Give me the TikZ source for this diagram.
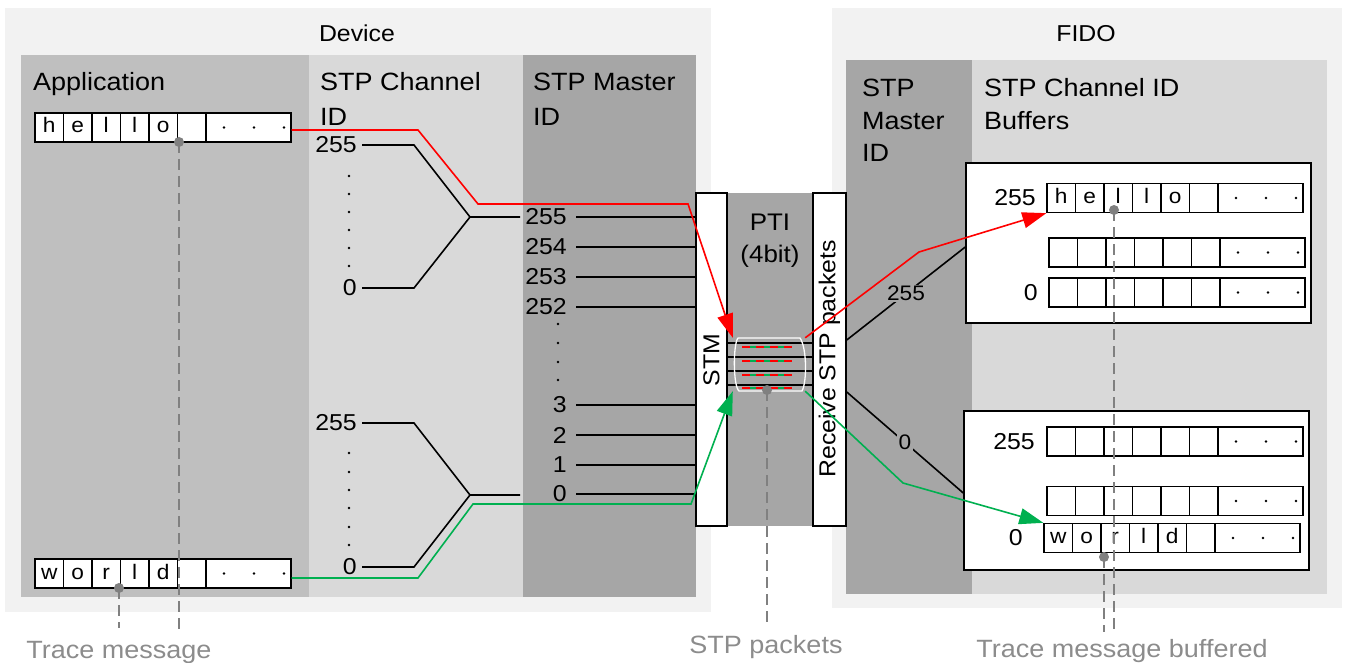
\documentclass[tikz,border=0pt]{standalone}
\usepackage{fontspec}
\setmainfont{Liberation Sans}[FakeStretch=1.08]
\usetikzlibrary{arrows.meta}

\definecolor{outerbg}{HTML}{F2F2F2}
\definecolor{appbg}{HTML}{BFBFBF}
\definecolor{chanbg}{HTML}{D9D9D9}
\definecolor{mastbg}{HTML}{A6A6A6}
\definecolor{tracegray}{HTML}{808080}
\definecolor{notegray}{HTML}{8C8C8C}
\definecolor{msgred}{HTML}{FF0000}
\definecolor{msggreen}{HTML}{00B050}

% one message buffer: six character cells and a wide "..." cell
% #1 name, #2 left x, #3 centre y, #4 the six characters
\newcommand\msgbuf[4]{%
  \foreach \bufch [count=\bufk from 0] in {#4}{%
    \node[cell] (#1-\bufk) at ({#2+14.25+28.5*\bufk},#3) {\bufch};}%
  \node[dotcell] (#1-dots) at ({#2+213.5},#3) {};%
  \foreach \bufdx in {18,48,78}{\fill ({#2+171+\bufdx},#3) circle (1.4);}%
}

\begin{document}
\begin{tikzpicture}[x=1pt,y=-1pt,
  wire/.style={line width=1.6pt},
  redwire/.style={line width=1.6pt, msgred, -{Triangle[length=24pt,width=16pt]}},
  greenwire/.style={line width=1.6pt, msggreen, -{Triangle[length=24pt,width=16pt]}},
  trace/.style={tracegray, line width=1.5pt, dash pattern=on 11pt off 6pt},
  tdot/.style={circle, fill=tracegray, inner sep=0pt, minimum size=10pt},
  cell/.style={draw, fill=white, line width=1.3pt, minimum width=28.5pt,
    minimum height=29pt, inner sep=0pt, text height=15pt, text depth=4pt,
    font=\fontsize{21}{24}\selectfont},
  dotcell/.style={draw, fill=white, line width=1.3pt, minimum width=85pt,
    minimum height=29pt, inner sep=0pt},
  bufbox/.style={draw, fill=white, line width=1.5pt, minimum width=345pt,
    minimum height=160pt, inner sep=0pt},
  tallbox/.style={draw, fill=white, line width=1.5pt, minimum height=333pt, inner sep=0pt},
  hdr/.style={font=\fontsize{25}{30}\selectfont, inner sep=0pt, anchor=base west},
  title/.style={font=\fontsize{23}{28}\selectfont, inner sep=0pt, anchor=base},
  num/.style={font=\fontsize{23}{28}\selectfont, inner sep=0pt},
  numlab/.style={num, anchor=east, inner xsep=5pt},
  mlab/.style={num, anchor=east, inner xsep=9pt},
  linelab/.style={font=\fontsize{21}{25}\selectfont, fill=mastbg, inner sep=1.5pt},
  note/.style={font=\fontsize{25}{30}\selectfont, text=notegray, inner sep=0pt, anchor=base}]
\useasboundingbox (0,0) rectangle (1346,663);

% ---------- background panels ----------
\fill[outerbg] (5,8) rectangle (711,612);
\fill[outerbg] (832,8) rectangle (1342,608);
\fill[appbg] (21,55) rectangle (309,597);
\fill[chanbg] (309,55) rectangle (523,597);
\fill[mastbg] (523,55) rectangle (696,597);
\fill[mastbg] (696,193) rectangle (846,526);
\fill[mastbg] (846,60) rectangle (972,594);
\fill[chanbg] (972,60) rectangle (1327,594);

% ---------- titles and column headers ----------
\node[title] (t-device) at (357,41.5) {Device};
\node[title] (t-fido) at (1086,41.5) {FIDO};
\node[hdr] (h-app) at (33,91) {Application};
\node[hdr] (h-chan1) at (320,91) {STP Channel};
\node[hdr] (h-chan2) at (320,125.5) {ID};
\node[hdr] (h-mast1) at (533,91) {STP Master};
\node[hdr] (h-mast2) at (533,125.5) {ID};
\node[hdr] (h-fm1) at (862,97) {STP};
\node[hdr] (h-fm2) at (862,129.5) {Master};
\node[hdr] (h-fm3) at (862,162) {ID};
\node[hdr] (h-fb1) at (984,97) {STP Channel ID};
\node[hdr] (h-fb2) at (984,129.5) {Buffers};

% ---------- application buffers ----------
\msgbuf{hello}{35}{127.5}{h,e,l,l,o,{}}
\msgbuf{world}{35}{573.5}{w,o,r,l,d,{}}

% ---------- STP channel IDs, merged per master ----------
\node[numlab] (ca255) at (362,145) {255};
\node[numlab] (ca0) at (362,288) {0};
\node[numlab] (cb255) at (362,423) {255};
\node[numlab] (cb0) at (362,567) {0};
\foreach \cy in {176,194,212,230,248,266,453,472,490,508,527,545}
  \fill (349,\cy) circle (1.4);
\coordinate (ka1) at (414,145);
\coordinate (ka2) at (414,288);
\coordinate (fanA) at (470,217);
\coordinate (fanAo) at (520,217);
\coordinate (kb1) at (414,423);
\coordinate (kb2) at (414,567);
\coordinate (fanB) at (470,495);
\coordinate (fanBo) at (520,495);
\draw[wire] (ca255.east) -- (ka1) -- (fanA) -- (fanAo);
\draw[wire] (ca0.east) -- (ka2) -- (fanA);
\draw[wire] (cb255.east) -- (kb1) -- (fanB) -- (fanBo);
\draw[wire] (cb0.east) -- (kb2) -- (fanB);

% ---------- STM, PTI and receiver ----------
\node[tallbox, minimum width=31pt] (stm) at (711.5,359.5) {};
\node[num, rotate=90] (stm-text) at (711.5,360) {STM};
\node[tallbox, minimum width=33pt] (rcv) at (829.5,359.5) {};
\node[num, rotate=90] (rcv-text) at (829.5,359) {Receive STP packets};
\node[font=\fontsize{24}{28}\selectfont, inner sep=0pt, anchor=base] (pti1) at (770,230) {PTI};
\node[font=\fontsize{24}{28}\selectfont, inner sep=0pt, anchor=base] (pti2) at (770,262) {(4bit)};

% STP master IDs into the STM
\foreach \mv/\my in {255/217,254/247,253/277,252/307,3/405,2/435,1/465,0/494}{
  \node[mlab] (m\mv) at (576,\my) {\mv};
  \draw[wire] (m\mv.east) -- (m\mv.east -| stm.west);
}
\foreach \my in {324,343,362,380}
  \fill (558,\my) circle (1.4);

% packet stream across the PTI
\node[minimum width=72pt, minimum height=53pt, inner sep=0pt] (pkt) at (769,364.5) {};
\foreach \py in {343,357,371,385}
  \draw[wire] (stm.east |- 0,\py) -- (rcv.west |- 0,\py);
\foreach \py in {347,361,375,388}{
  \draw[msggreen, line width=2.2pt] (742,\py) -- (792,\py);
  \draw[msgred, line width=2.2pt, dash pattern=on 8pt off 6pt] (742,\py) -- (792,\py);
}
\draw[white, line width=1.3pt] (738,338) -- (800,338)
  .. controls (807,348) and (807,382) .. (802,391) -- (739,391)
  .. controls (733,386) and (733,344) .. (738,338) -- cycle;

% ---------- FIDO buffers ----------
\node[bufbox] (upbuf) at (1138.5,243) {};
\msgbuf{fa}{1047}{198}{h,e,l,l,o,{}}
\msgbuf{fb}{1049}{252.5}{{},{},{},{},{},{}}
\msgbuf{fc}{1049}{292.5}{{},{},{},{},{},{}}
\node[num, anchor=east] (fa-lab) at (1036,198) {255};
\node[num, anchor=east] (fc-lab) at (1038,292.5) {0};

\node[bufbox, minimum height=159pt] (lowbuf) at (1136.5,490.5) {};
\msgbuf{fd}{1047}{441.5}{{},{},{},{},{},{}}
\msgbuf{fe}{1047}{501}{{},{},{},{},{},{}}
\msgbuf{ff}{1044}{538}{w,o,r,l,d,{}}
\node[num, anchor=east] (fd-lab) at (1035,441.5) {255};
\node[num, anchor=east] (ff-lab) at (1023,538) {0};

% receiver to buffer sets
\draw[wire] ([yshift=19.5pt]rcv.east) -- node[linelab] {255} ([yshift=-4pt]upbuf.west);
\draw[wire] ([yshift=-32.5pt]rcv.east) -- node[linelab] {0} ([yshift=-2.5pt]lowbuf.west);

% ---------- message paths ----------
\coordinate (rd1) at (418,130);
\coordinate (rd2) at (478,204);
\coordinate (rd3) at (688,204);
\draw[redwire] ([yshift=-2.5pt]hello-dots.east) -- (rd1) -- (rd2) -- (rd3) -- (pkt.north west);
\coordinate (gd1) at (418,578);
\coordinate (gd2) at (473,504);
\coordinate (gd3) at (691,504);
\draw[greenwire] ([yshift=-4.5pt]world-dots.east) -- (gd1) -- (gd2) -- (gd3) -- (pkt.south west);
\coordinate (rf1) at (919,252);
\draw[redwire] (pkt.north east) -- (rf1) -- (fa-0.south west);
\coordinate (gf1) at (903,483);
\draw[greenwire] (pkt.south east) -- (gf1) -- (ff-0.north west);

% ---------- trace markers ----------
\coordinate (e-hello) at (179,635);
\coordinate (e-world) at (119,628);
\coordinate (e-pkt) at (767,623);
\coordinate (e-fa) at (1114,632);
\coordinate (e-ff) at (1104,632);
\draw[trace] (179,142) -- (e-hello);
\draw[trace] (119,588) -- (e-world);
\draw[trace] (767,390) -- (e-pkt);
\draw[trace] (1114,210) -- (e-fa);
\draw[trace] (1104,557) -- (e-ff);
\node[tdot] (d-hello) at (179,142) {};
\node[tdot] (d-world) at (119,588) {};
\node[tdot] (d-pkt) at (767,390) {};
\node[tdot] (d-fa) at (1114,210) {};
\node[tdot] (d-ff) at (1104,557) {};

\node[note] (n-trace) at (119,658) {Trace message};
\node[note] (n-pkt) at (766,653) {STP packets};
\node[note] (n-buf) at (1122,657) {Trace message buffered};
\end{tikzpicture}
\end{document}
